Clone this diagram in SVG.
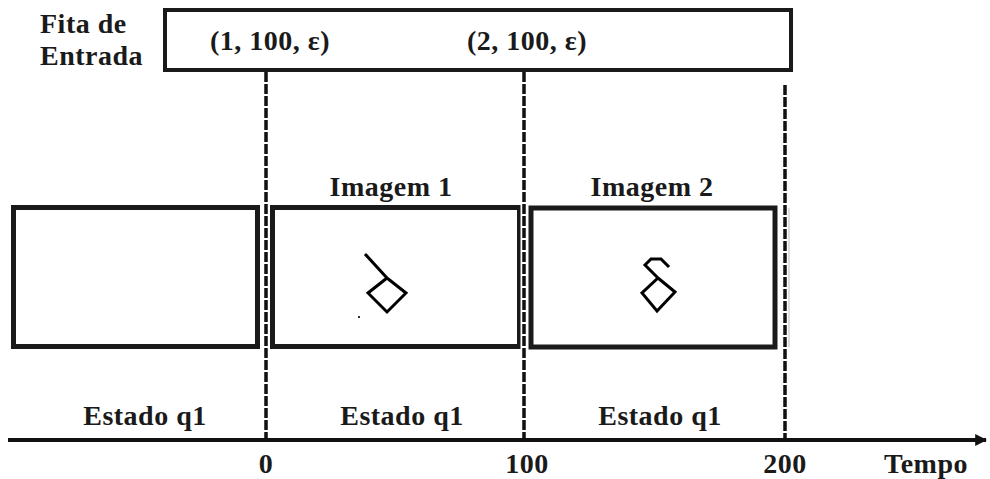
<svg xmlns="http://www.w3.org/2000/svg" width="990" height="479" viewBox="0 0 990 479">
  <style>
    .lbl { font-family: "Liberation Serif", "Times New Roman", serif; font-weight: bold; font-size: 28px; fill: #1a1a1a; letter-spacing: 0.5px; }
    .mid { text-anchor: middle; }
    .frame { fill: #ffffff; stroke: #1a1a1a; stroke-width: 5; }
    .tape { fill: #ffffff; stroke: #1a1a1a; stroke-width: 4; }
    .halo { stroke: #ffffff; stroke-width: 7; }
    .tick { stroke: #111111; stroke-width: 3.5; stroke-dasharray: 10 2; fill: none; }
    .glyph { fill: none; stroke: #000000; stroke-width: 3; stroke-linejoin: miter; stroke-linecap: square; }
  </style>
  <defs>
    <marker id="arrow" viewBox="0 0 10 10" refX="9" refY="5" markerWidth="3" markerHeight="4" orient="auto" markerUnits="strokeWidth">
      <path d="M0,0 L10,5 L0,10 z" fill="#111111"/>
    </marker>
  </defs>
  <rect width="990" height="479" fill="#ffffff"/>

  <!-- input tape -->
  <g id="tape">
    <text class="lbl" x="40" y="33">Fita de</text>
    <text class="lbl" x="40" y="65">Entrada</text>
    <rect class="tape" x="165" y="10" width="626" height="60"/>
    <text class="lbl mid" x="270" y="50">(1, 100, ε)</text>
    <text class="lbl mid" x="527" y="50">(2, 100, ε)</text>
  </g>

  <!-- frames -->
  <g id="frame0">
    <rect class="frame" x="13.5" y="207.5" width="244" height="139"/>
  </g>
  <g id="frame1">
    <text class="lbl mid" x="391" y="196">Imagem 1</text>
    <rect class="frame" x="272.5" y="207.5" width="247" height="139"/>
    <path class="glyph" d="M366,255 L387,278 M387,278 L406,293 L387,312 L368,293 Z"/>
    <rect x="358" y="316" width="2" height="2" fill="#333333"/>
  </g>
  <g id="frame2">
    <text class="lbl mid" x="652" y="196">Imagem 2</text>
    <rect class="frame" x="531" y="208" width="244" height="139"/>
    <path class="glyph" d="M668,266 L661,259 L651,259 L645,265 L658,278 M658,278 L675,292 L657,311 L642,293 Z"/>
  </g>

  <!-- time axis and boundaries -->
  <g id="connectors">
    <line class="halo" x1="266" y1="72" x2="266" y2="440"/>
    <line class="halo" x1="524" y1="72" x2="524" y2="440"/>
    <line class="halo" x1="785" y1="85" x2="785" y2="440"/>
    <line class="tick" x1="266" y1="72" x2="266" y2="440"/>
    <line class="tick" x1="524" y1="72" x2="524" y2="440"/>
    <line class="tick" x1="785" y1="85" x2="785" y2="440"/>
    <line x1="789" y1="208" x2="789" y2="347" stroke="#bbbbbb" stroke-width="1"/>
    <line x1="8" y1="440" x2="986" y2="440" stroke="#111111" stroke-width="4" marker-end="url(#arrow)"/>
  </g>

  <!-- axis labels -->
  <g id="labels">
    <text class="lbl mid" x="145" y="425">Estado q1</text>
    <text class="lbl mid" x="402" y="425">Estado q1</text>
    <text class="lbl mid" x="660" y="425">Estado q1</text>
    <text class="lbl mid" x="266" y="473">0</text>
    <text class="lbl mid" x="527" y="473">100</text>
    <text class="lbl mid" x="785" y="473">200</text>
    <text class="lbl mid" x="926" y="473">Tempo</text>
  </g>
</svg>
